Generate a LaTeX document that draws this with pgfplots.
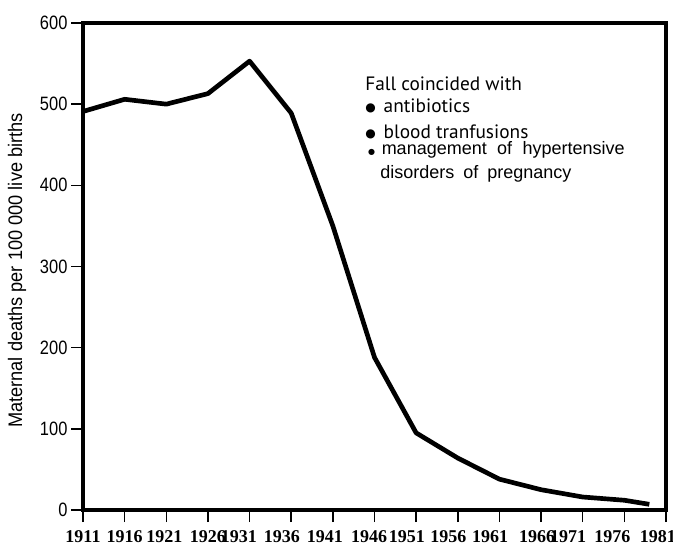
\documentclass[border=0pt]{standalone}
\usepackage{fontspec}
\usepackage{graphicx}
\setmainfont{Liberation Sans}
\newfontfamily\serifbold{Liberation Serif}
\newfontfamily\humsans{PT Sans}
\newfontfamily\dejavu{DejaVu Sans}
\newcommand\sh[2]{\hspace*{#1}#2\hspace*{-#1}}
\newcommand\yt[1]{\scalebox{0.85}[1]{#1}}
\usepackage{pgfplots}
\pgfplotsset{compat=1.18}
\pgfplotstableread{
year value
1911 491
1916 506
1921 500
1926 513
1931 553
1936 489
1941 350
1946 188
1951 95
1956 64
1961 38
1966 25
1971 16
1976 12
1979 7
}\mmr
\begin{document}
\begin{tikzpicture}
\begin{axis}[
  scale only axis,
  width=437.25pt, height=365.25pt,
  xmin=1911, xmax=1981, ymin=0, ymax=600,
  axis line style={line width=2.3pt, black},
  xtick={1911,1916,1921,1926,1931,1936,1941,1946,1951,1956,1961,1966,1971,1976,1981},
  xticklabels={1911,1916,\sh{-1.5pt}{1921},1926,\sh{-8pt}{1931},\sh{-7pt}{1936},\sh{-6pt}{1941},\sh{-4pt}{1946},\sh{-7pt}{1951},\sh{-7pt}{1956},\sh{-7pt}{1961},\sh{-3pt}{1966},\sh{-11pt}{1971},\sh{-9pt}{1976},\makebox[1.1em][r]{1981}},
  ytick={0,100,200,300,400,500,600},
  yticklabels={\yt{0},\yt{100},\yt{200},\yt{300},\yt{400},\yt{500},\yt{600}},
  xtick pos=bottom, ytick pos=left,
  tick align=outside,
  major tick length=9pt,
  tick style={line width=1.1pt, black},
  xticklabel style={font=\serifbold\bfseries\fontsize{13.5}{13.5}\selectfont, inner sep=2.5pt, yshift=-3.5pt},
  yticklabel style={font=\fontsize{14.5}{14.5}\selectfont, inner sep=2.5pt},
  clip=false,
]
\addplot[black, line width=3.5pt, line join=round] table[x=year, y=value] {\mmr};
\node[rotate=90, anchor=center, inner sep=0pt, font=\fontsize{14.7}{14.7}\selectfont] at (rel axis cs:-0.1132,0.4918) {\resizebox{236pt}{\height}{Maternal deaths per 100 000 live births}};
\node[anchor=base west, font=\humsans\fontsize{14.5}{14.5}\selectfont, inner sep=0pt] at (axis cs:1944.86,517.4) {Fall coincided with};
\node[anchor=base west, font=\humsans\fontsize{14.5}{14.5}\selectfont, inner sep=0pt] at (axis cs:1944.86,490.3) {\raisebox{0.5pt}{\dejavu\fontsize{9}{9}\selectfont ●}\hspace{6pt}antibiotics};
\node[anchor=base west, font=\humsans\fontsize{14.5}{14.5}\selectfont, inner sep=0pt] at (axis cs:1944.86,458.3) {\raisebox{0.5pt}{\dejavu\fontsize{9}{9}\selectfont ●}\hspace{6pt}blood tranfusions};
\node[anchor=base west, font=\fontsize{13.5}{13.5}\selectfont, inner sep=0pt] at (axis cs:1945.2,437.4) {\spaceskip=0.58em\relax{\dejavu\fontsize{6}{6}\selectfont ●}\hspace{5pt}management of hypertensive};
\node[anchor=base west, font=\fontsize{13.5}{13.5}\selectfont, inner sep=0pt] at (axis cs:1946.66,409) {\spaceskip=0.5em\relax disorders of pregnancy};
\end{axis}
\pgfresetboundingbox
\useasboundingbox (-62.25pt,-28.5pt) rectangle (442.5pt,382.5pt);
\end{tikzpicture}
\end{document}
